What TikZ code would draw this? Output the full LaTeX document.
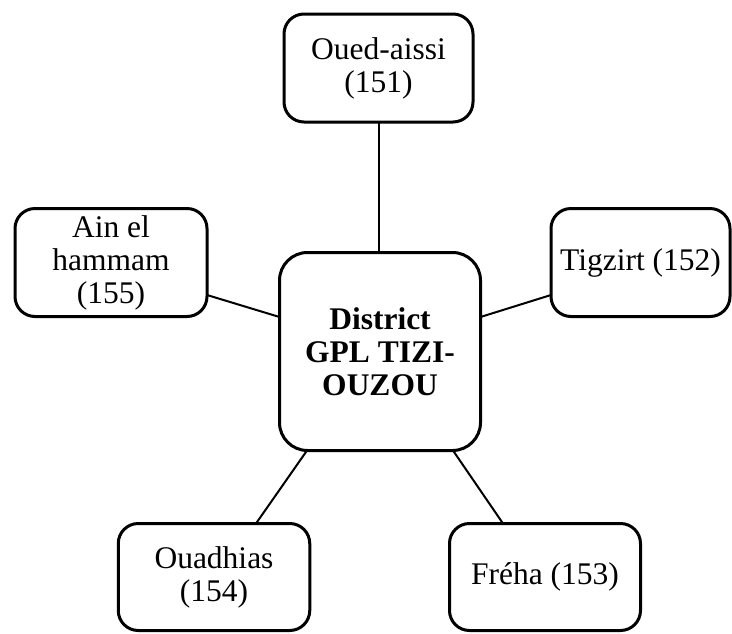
\documentclass[tikz,border=0pt]{standalone}
\usepackage{fontspec}
\setmainfont{Liberation Serif}
\begin{document}
\begin{tikzpicture}[x=1pt,y=-1pt,
  unit/.style={draw=black,line width=3pt,rounded corners=20pt,fill=white,
    inner sep=0pt,outer sep=0pt,align=center,
    font=\fontsize{31.5}{33}\selectfont},
  hubbox/.style={unit,rounded corners=28pt,font=\fontsize{31.5}{33}\selectfont\bfseries},
  link/.style={draw=black,line width=2pt}]
\useasboundingbox (0,0) rectangle (732,633);

% central district
\node[hubbox,minimum width=201pt,minimum height=198pt] (hub) at (380,351.5)
  {District\\GPL TIZI-\\OUZOU};

% the five agencies
\node[unit,minimum width=189pt,minimum height=108pt] (oued) at (378.5,68)
  {Oued-aissi\\(151)};
\node[unit,minimum width=192pt,minimum height=108pt] (ain) at (111,262.5)
  {Ain el\\hammam\\(155)};
\node[unit,minimum width=179pt,minimum height=108pt] (tig) at (640.5,262.5)
  {Tigzirt (152)};
\node[unit,minimum width=191.5pt,minimum height=107pt] (ouad) at (214,577)
  {Ouadhias\\(154)};
\node[unit,minimum width=191pt,minimum height=107pt] (freha) at (545,577)
  {Fréha (153)};

% links to the district
\draw[link] (oued.south) -- (oued.south |- hub.north);
\draw[link] ([yshift=-32.5pt]ain.east) -- ([yshift=34.5pt]hub.west);
\draw[link] ([yshift=-32.5pt]tig.west) -- ([yshift=34.5pt]hub.east);
\draw[link] ([xshift=42pt]ouad.north) -- ([xshift=-73pt]hub.south);
\draw[link] ([xshift=-42pt]freha.north) -- ([xshift=73pt]hub.south);
\end{tikzpicture}
\end{document}
